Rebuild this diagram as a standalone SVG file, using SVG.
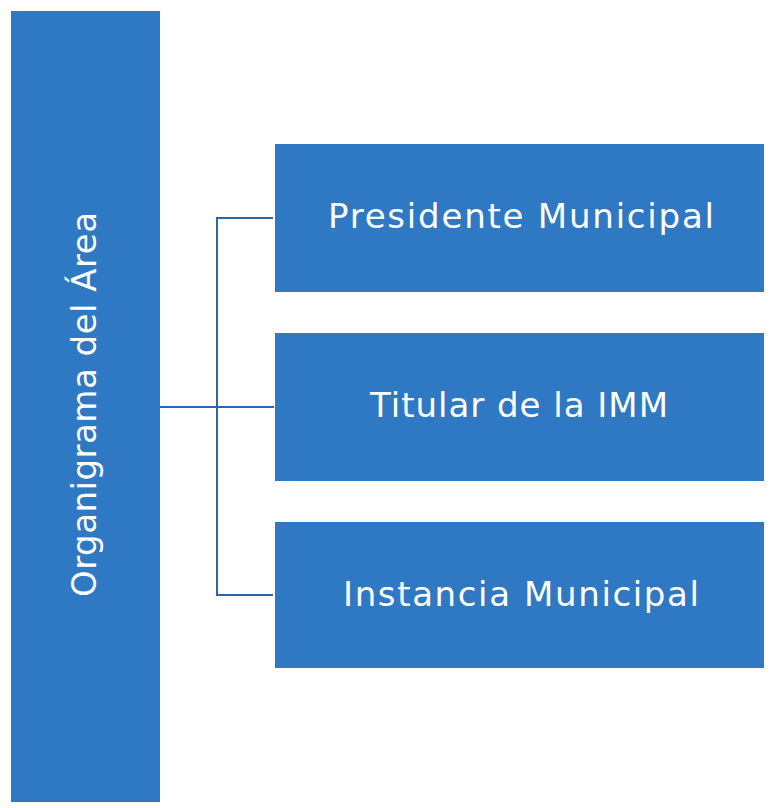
<svg xmlns="http://www.w3.org/2000/svg" width="770" height="808" viewBox="0 0 770 808">
<style>
.box{fill:#2f78c3;}
.t{fill:#ffffff;font-family:"DejaVu Sans","Noto Sans",sans-serif;font-size:34px;text-anchor:middle;}
.c{stroke:#2d66a6;stroke-width:2;fill:none;}
</style>
<rect width="770" height="808" fill="#ffffff"/>
<g id="root">
<rect class="box" x="11" y="11" width="149" height="791"/>
<text class="t" transform="translate(96,404.5) rotate(-90)" textLength="385" lengthAdjust="spacing">Organigrama del Área</text>
</g>
<g id="connectors">
<line class="c" x1="160" y1="407" x2="274" y2="407"/>
<polyline class="c" points="273,218 217,218 217,595 273,595"/>
</g>
<g id="n1">
<rect class="box" x="275" y="144" width="489" height="148"/>
<text class="t" x="521" y="228" textLength="386" lengthAdjust="spacing">Presidente Municipal</text>
</g>
<g id="n2">
<rect class="box" x="275" y="333" width="489" height="148"/>
<text class="t" x="519" y="417" textLength="298" lengthAdjust="spacing">Titular de la IMM</text>
</g>
<g id="n3">
<rect class="box" x="275" y="522" width="489" height="146"/>
<text class="t" x="521" y="606" textLength="356" lengthAdjust="spacing">Instancia Municipal</text>
</g>
</svg>
